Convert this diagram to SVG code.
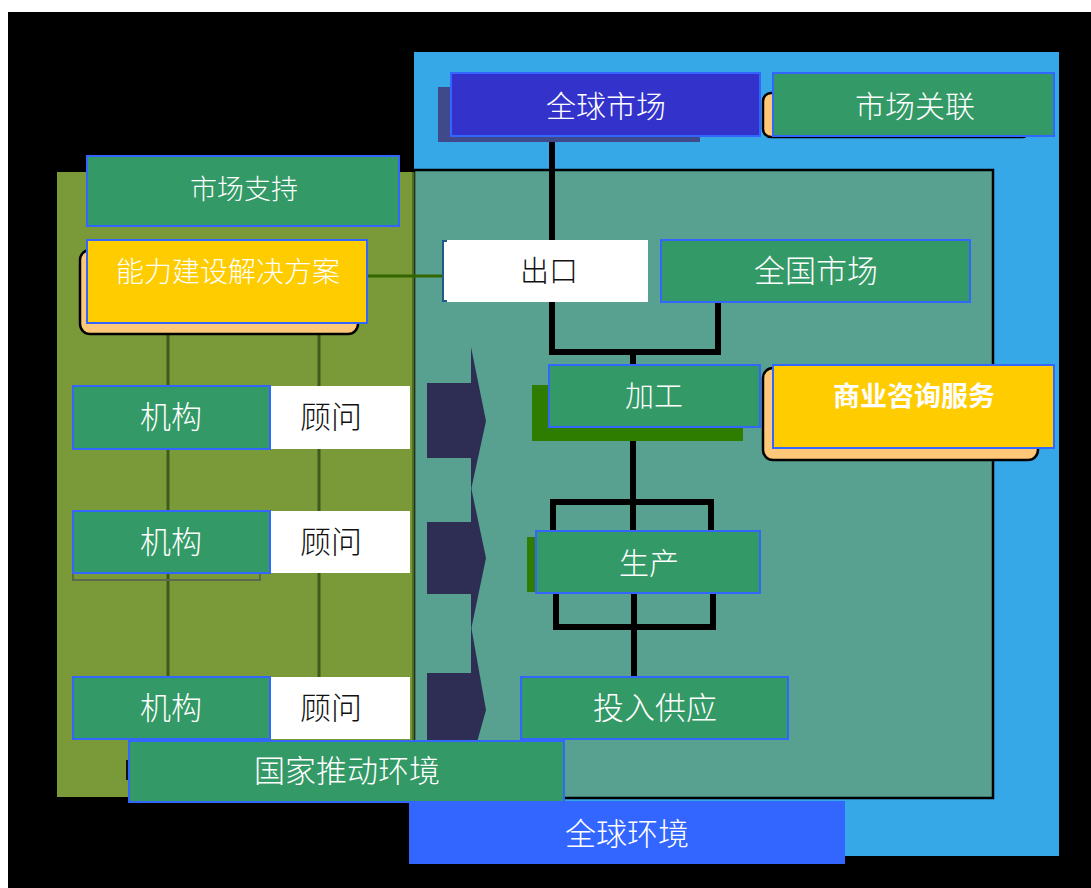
<svg xmlns="http://www.w3.org/2000/svg" width="1091" height="888" viewBox="0 0 1091 888">
<defs>
<style>
.g{fill:#339966;stroke:#3366FF;stroke-width:2}
.y{fill:#FFCC00;stroke:#3366FF;stroke-width:2}
.w{fill:#FFFFFF}
.o{fill:#FFC878;stroke:#000;stroke-width:2.5}
.t{font-family:"Liberation Serif","Noto Sans CJK SC",serif;font-weight:300;text-anchor:middle;fill:#FFFFFF}
.k{fill:#111111}
.ln{fill:none;stroke:#000;stroke-width:6}
.vl{stroke:#3E5A1C;stroke-width:3}
.ar{fill:#2E2E55}
</style>
</defs>
<rect x="0" y="0" width="1091" height="888" fill="#FFFFFF"/>
<rect x="8" y="12" width="1083" height="876" fill="#000000"/>

<g id="global-env-frame">
<rect x="414" y="52" width="645" height="804" fill="#36A8E8"/>
</g>
<g id="olive-panel">
<rect x="57" y="172" width="357" height="625" fill="#7A9A3A"/>
</g>
<g id="teal-panel">
<rect x="414" y="170" width="579" height="628" fill="#58A090" stroke="#000" stroke-width="2.5"/>
<line x1="413.5" y1="172" x2="413.5" y2="797" stroke="#4A6A24" stroke-width="2"/>
</g>

<g id="connectors">
<line class="vl" x1="168" y1="334" x2="168" y2="677"/>
<line class="vl" x1="319" y1="334" x2="319" y2="677"/>
<line x1="367" y1="276" x2="447" y2="276" stroke="#336600" stroke-width="3"/>
<line class="ln" x1="552" y1="136" x2="552" y2="240"/>
<path class="ln" d="M552 302 V352 H718 V302"/>
<line class="ln" x1="633" y1="352" x2="633" y2="365"/>
<line class="ln" x1="633" y1="427" x2="633" y2="500"/>
<path class="ln" d="M553 531 V502 H711 V531"/>
<path class="ln" d="M556 593 V627 H713 V593"/>
<line class="ln" x1="633" y1="500" x2="633" y2="531"/>
<line class="ln" x1="634" y1="593" x2="634" y2="677"/>
</g>

<g id="arrows">
<polygon class="ar" points="427,383 471,383 471,347 486,421 471,490 471,458 427,458"/>
<polygon class="ar" points="427,522 471,522 471,487 486,558 471,630 471,594 427,594"/>
<polygon class="ar" points="427,673 471,673 471,626 486,710 472,760 471,740 427,740"/>
</g>

<g id="node-global-market">
<rect x="438" y="87" width="262" height="55" fill="#40498A"/>
<rect x="451" y="73" width="309" height="63" fill="#3333CC" stroke="#3366FF" stroke-width="2"/>
<text class="t" x="606" y="117" font-size="30">全球市场</text>
</g>

<g id="node-market-link">
<rect class="o" x="763" y="93" width="267" height="44" rx="8"/>
<rect class="g" x="773" y="73" width="281" height="63"/>
<text class="t" x="915" y="117" font-size="30">市场关联</text>
</g>

<g id="node-market-support">
<rect class="g" x="87" y="156" width="312" height="70"/>
<text class="t" x="244" y="199" font-size="27">市场支持</text>
</g>

<g id="node-capacity">
<rect class="o" x="80" y="250" width="278" height="84" rx="10"/>
<rect class="y" x="87" y="240" width="280" height="83"/>
<text class="t" x="228" y="282" font-size="28">能力建设解决方案</text>
</g>

<g id="node-export">
<rect x="443" y="241" width="10" height="60" fill="#FFFFFF" stroke="#1E5A8A" stroke-width="2"/>
<rect class="w" x="447" y="240" width="201" height="62"/>
<text class="t k" x="549" y="282" font-size="29">出口</text>
</g>

<g id="node-national-market">
<rect class="g" x="661" y="240" width="309" height="62"/>
<text class="t" x="816" y="282" font-size="31">全国市场</text>
</g>

<g id="node-processing">
<rect x="532" y="385" width="211" height="56" fill="#2E7D00"/>
<rect class="g" x="549" y="365" width="211" height="62"/>
<text class="t" x="654" y="407" font-size="29">加工</text>
</g>

<g id="node-business-consulting">
<rect class="o" x="763" y="368" width="275" height="92" rx="10"/>
<rect class="y" x="773" y="365" width="281" height="83"/>
<text class="t" x="914" y="406" font-size="27" font-weight="bold" style="font-weight:bold">商业咨询服务</text>
</g>

<g id="node-production">
<rect x="527" y="537" width="14" height="55" fill="#2E7D00"/>
<rect class="g" x="536" y="531" width="224" height="62"/>
<text class="t" x="649" y="574" font-size="30">生产</text>
</g>

<g id="node-input-supply">
<rect class="g" x="521" y="677" width="267" height="62"/>
<text class="t" x="655" y="719" font-size="31">投入供应</text>
</g>

<g id="row1">
<rect class="g" x="73" y="386" width="197" height="63"/>
<text class="t" x="171" y="428" font-size="31">机构</text>
<rect class="w" x="271" y="386" width="139" height="63"/>
<text class="t k" x="331" y="428" font-size="31">顾问</text>
</g>

<g id="row2">
<rect x="73" y="573" width="187" height="7" fill="none" stroke="#5A6A4A" stroke-width="2"/>
<rect class="g" x="73" y="511" width="197" height="62"/>
<text class="t" x="171" y="553" font-size="31">机构</text>
<rect class="w" x="271" y="511" width="139" height="62"/>
<text class="t k" x="331" y="553" font-size="31">顾问</text>
</g>

<g id="row3">
<rect class="g" x="73" y="677" width="197" height="62"/>
<text class="t" x="171" y="719" font-size="31">机构</text>
<rect class="w" x="271" y="677" width="139" height="62"/>
<text class="t k" x="331" y="719" font-size="31">顾问</text>
</g>

<g id="node-national-env">
<rect x="126" y="760" width="4" height="20" fill="#111"/>
<rect class="g" x="129" y="741" width="435" height="61"/>
<text class="t" x="347" y="782" font-size="31">国家推动环境</text>
</g>

<g id="node-global-env">
<rect x="409" y="801" width="436" height="63" fill="#3366FF"/>
<text class="t" x="627" y="845" font-size="31">全球环境</text>
</g>
</svg>
